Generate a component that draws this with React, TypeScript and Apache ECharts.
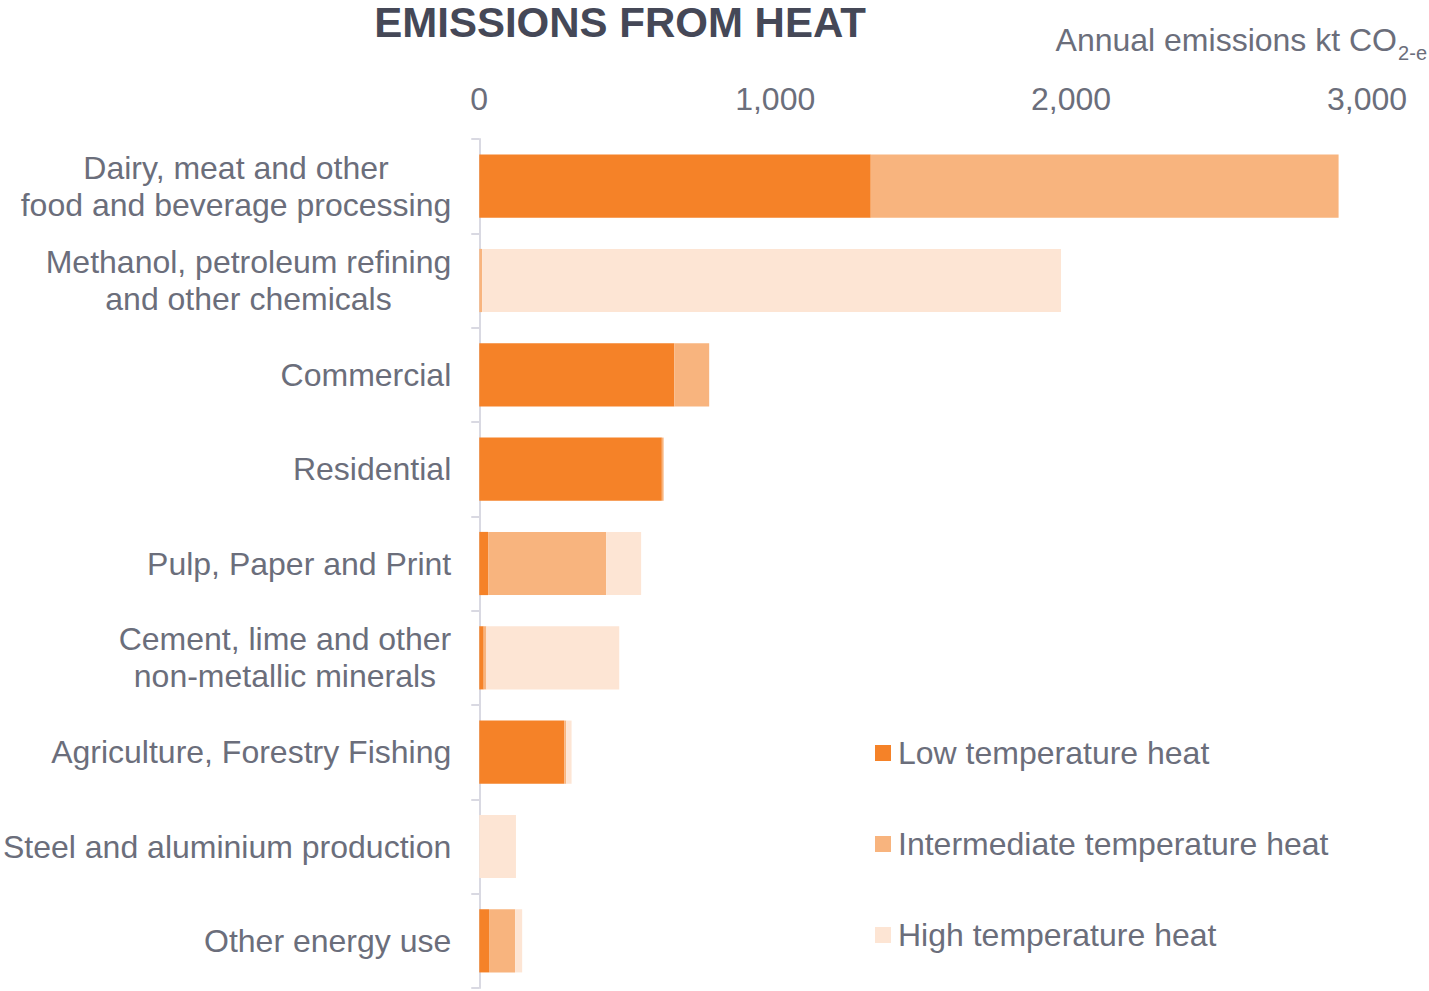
import React, { useEffect, useRef } from "react";
import * as echarts from "echarts";

// Sectors, top to bottom
const categories: string[] = [
  "Dairy, meat and other\nfood and beverage processing",
  "Methanol, petroleum refining\nand other chemicals",
  "Commercial",
  "Residential",
  "Pulp, Paper and Print",
  "Cement, lime and other\nnon-metallic minerals",
  "Agriculture, Forestry Fishing",
  "Steel and aluminium production",
  "Other energy use",
];

// Annual emissions, kt CO2-e
const lowTemp: number[] = [1323, 0, 659, 617, 30, 15, 287, 0, 33];
const intermediateTemp: number[] = [1581, 10, 118, 6, 399, 9, 7, 0, 88];
const highTemp: number[] = [0, 1956, 0, 0, 118, 449, 18, 124, 24];

const seriesNames: string[] = [
  "Low temperature heat",
  "Intermediate temperature heat",
  "High temperature heat",
];

const axisTicks: number[] = [0, 1000, 2000, 3000];

const COLORS = ["#F58228", "#F8B47E", "#FDE5D4"];
const TEXT = "#6B6E7B";
const TITLE = "#454857";
const AXIS = "#D9D9E2";
const FONT = "'Liberation Sans', Arial, sans-serif";

export default function App() {
  const ref = useRef<HTMLDivElement>(null);

  useEffect(() => {
    if (!ref.current) return;
    const chart = echarts.init(ref.current, undefined, { renderer: "svg" });

    const values = [lowTemp, intermediateTemp, highTemp];

    chart.setOption({
      animation: false,
      backgroundColor: "#ffffff",
      textStyle: { fontFamily: FONT },
      title: {
        text: "EMISSIONS FROM HEAT",
        left: 615,
        top: -4,
        textAlign: "center",
        textStyle: {
          fontFamily: FONT,
          fontSize: 42,
          fontWeight: "bold",
          color: TITLE,
        },
      },
      graphic: [
        {
          type: "text",
          right: 32,
          top: 24,
          style: {
            text: "Annual emissions kt CO",
            font: `32px ${FONT}`,
            fill: TEXT,
          },
        },
        {
          type: "text",
          right: 2,
          top: 43,
          style: {
            text: "2-e",
            font: `20px ${FONT}`,
            fill: TEXT,
          },
        },
      ],
      legend: {
        orient: "vertical",
        left: 870,
        top: 728,
        itemWidth: 16,
        itemHeight: 16,
        itemGap: 51,
        icon: "rect",
        data: seriesNames,
        textStyle: {
          fontFamily: FONT,
          fontSize: 32,
          lineHeight: 40,
          color: TEXT,
          padding: [0, 0, 0, 2],
        },
      },
      grid: {
        left: 479,
        right: 62,
        top: 139,
        bottom: 3,
        containLabel: false,
      },
      xAxis: {
        type: "value",
        position: "top",
        min: axisTicks[0],
        max: axisTicks[axisTicks.length - 1],
        interval: axisTicks[1] - axisTicks[0],
        axisLine: { show: false },
        axisTick: { show: false },
        splitLine: { show: false },
        axisLabel: {
          fontFamily: FONT,
          fontSize: 32,
          color: TEXT,
          margin: 24,
          formatter: (v: number) => v.toLocaleString("en-US"),
        },
      },
      yAxis: {
        type: "category",
        inverse: true,
        data: categories,
        axisLine: { show: true, lineStyle: { color: AXIS, width: 2 } },
        axisTick: {
          show: true,
          length: 8,
          lineStyle: { color: AXIS, width: 2 },
        },
        axisLabel: {
          margin: 28,
          color: TEXT,
          fontFamily: FONT,
          fontSize: 32,
          lineHeight: 37,
          formatter: (v: string) =>
            v
              .split("\n")
              .map((line) => `{c|${line}}`)
              .join("\n"),
          rich: {
            c: {
              align: "center",
              fontFamily: FONT,
              fontSize: 32,
              lineHeight: 37,
              color: TEXT,
            },
          },
        },
      },
      series: seriesNames.map((name, i) => ({
        name,
        type: "bar",
        stack: "heat",
        barCategoryGap: "33%",
        itemStyle: { color: COLORS[i] },
        data: values[i],
      })),
    });

    return () => chart.dispose();
  }, []);

  return (
    <div
      ref={ref}
      style={{ position: "fixed", left: 0, top: 0, width: 1429, height: 991 }}
    />
  );
}
